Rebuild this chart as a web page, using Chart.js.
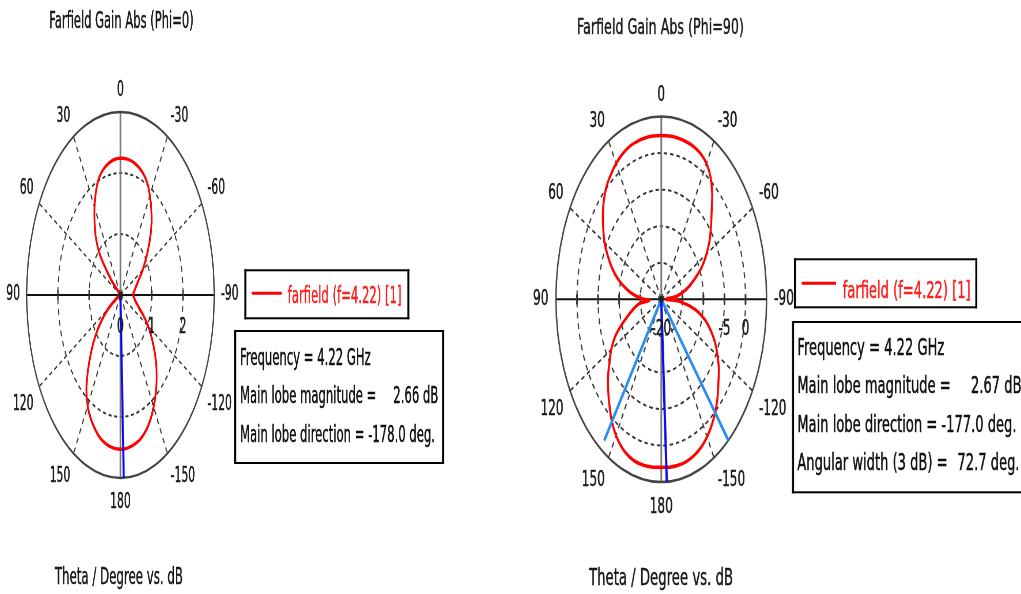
<!DOCTYPE html>
<html>
<head>
<meta charset="utf-8">
<script src="https://cdn.jsdelivr.net/npm/chart.js@4.4.1/dist/chart.umd.min.js"></script>
<style>
  html, body { margin: 0; padding: 0; background: #fff; overflow: hidden; width: 1021px; height: 594px; }
  .half { position: absolute; top: 0; height: 594px; transform-origin: 0 0; }
  canvas { display: block; }
</style>
</head>
<body>
<div class="half" style="left:0;width:1004px;transform:scaleX(0.5126)"><canvas id="phi0" width="1004" height="594"></canvas></div>
<div class="half" style="left:515px;width:879px;transform:scaleX(0.5764)"><canvas id="phi90" width="879" height="594"></canvas></div>
<script>
(() => {
  'use strict';

  const FREQ = '4.22';
  const angleTicks = [0, 30, 60, 90, 120, 150, 180, -150, -120, -90, -60, -30];
  const spokeAngles = [30, 60, 120, 150, -30, -60, -120, -150];

  // Phi = 0 cut (theta in deg, gain in dB)
  const phi0Theta = [-180, -175, -170, -165, -160, -155, -150, -145, -140, -135, -130, -125, -120, -115, -110, -105,
    -100, -95, -90, -85, -80, -75, -70, -65, -60, -55, -50, -45, -40, -35, -30, -25, -20, -15, -10, -5,
    0, 5, 10, 15, 20, 25, 30, 35, 40, 45, 50, 55, 60, 65, 70, 75, 80, 85, 90, 95, 100, 105, 110, 115,
    120, 125, 130, 135, 140, 145, 150, 155, 160, 165, 170, 175, 180];
  const phi0Gain = [2.53, 2.52, 2.49, 2.45, 2.37, 2.26, 2.12, 1.97, 1.80, 1.62, 1.42, 1.22, 1.03, 0.82, 0.64, 0.54,
    0.47, 0.43, 0.40, 0.42, 0.46, 0.51, 0.58, 0.68, 0.82, 0.97, 1.15, 1.35, 1.55, 1.72, 1.88, 2.03, 2.12, 2.18, 2.22, 2.24,
    2.24, 2.23, 2.19, 2.13, 2.03, 1.86, 1.66, 1.44, 1.22, 0.92, 0.40, -0.2, -1.0, -1.5, -2.0, -2.5, -3.0, -3.0, -3.0, -2.8, -2.2, -1.6, -0.6, 0.15,
    0.45, 0.75, 1.05, 1.33, 1.62, 1.90, 2.10, 2.24, 2.35, 2.44, 2.49, 2.52, 2.53];
  const phi0Rings = [1, 2];
  const phi0RingLabels = [0, 1, 2];
  const phi0Min = 0;
  const phi0Max = 3;
  const phi0MainDir = -178.0;
  const phi0MainMag = 2.66;

  // Phi = 90 cut
  const phi90Theta = [-180, -175, -170, -165, -160, -155, -150, -145, -140, -135, -130, -125, -120, -115, -110, -105,
    -100, -94, -91, -87, -84, -80, -75, -70, -65, -60, -55, -50, -45, -40, -35, -30, -25, -20, -15, -10, -5,
    0, 5, 10, 15, 20, 25, 30, 35, 40, 45, 50, 55, 60, 65, 70, 75, 80, 85, 90, 93, 96, 100, 105, 110, 115,
    120, 125, 130, 135, 140, 145, 150, 155, 160, 165, 170, 175, 180];
  const phi90Gain = [3.00, 3.06, 3.07, 3.00, 2.75, 2.35, 1.75, 0.95, 0.00, -1.10, -2.30, -3.30, -4.60, -5.90, -7.50, -9.30,
    -11.70, -15.50, -18.80, -18.80, -16.60, -15.00, -13.20, -11.30, -9.30, -7.60, -6.00, -4.60, -3.10, -1.20, 0.40, 1.45, 2.02, 2.27, 2.35, 2.40, 2.42,
    2.42, 2.42, 2.40, 2.33, 2.22, 1.90, 1.45, 0.85, 0.20, -0.75, -1.90, -3.20, -4.45, -6.00, -7.60, -9.40, -11.50, -13.60, -15.80, -17.20, -15.00, -13.60, -12.10, -10.10, -7.90,
    -6.30, -5.00, -3.50, -2.20, -0.90, 0.45, 1.50, 2.30, 2.80, 3.05, 3.08, 3.06, 3.00];
  const phi90Rings = [-15, -10, -5, 0];
  const phi90RingLabels = [-20, -5, 0];
  const phi90Min = -20;
  const phi90Max = 5;
  const phi90MainDir = -177.0;
  const phi90MainMag = 2.67;
  const phi90Width3dB = 72.7;
  const phi90BeamTheta = [145, -140.5];
  const phi90BeamGain = [3.6, 5];

  const FONT = '"DejaVu Sans", Tahoma, sans-serif';

  function toXY(theta, gain, gmin) {
    const r = Math.max(0, gain - gmin);
    const a = theta * Math.PI / 180;
    return { x: -r * Math.sin(a), y: r * Math.cos(a) };
  }

  function text(ctx, str, x, y, size, color, align, baseline) {
    ctx.font = `${size}px ${FONT}`;
    ctx.fillStyle = color || '#111';
    ctx.strokeStyle = color || '#111';
    ctx.lineWidth = 0.5;
    ctx.textAlign = align || 'left';
    ctx.textBaseline = baseline || 'alphabetic';
    ctx.fillText(str, x, y);
    ctx.strokeText(str, x, y);
  }

  // box with 2px-looking borders after the horizontal squeeze
  function box(ctx, x0, y0, x1, y1, sx) {
    const v = 2 / sx;
    ctx.fillStyle = '#fff';
    ctx.fillRect(x0, y0, x1 - x0, y1 - y0);
    ctx.fillStyle = '#000';
    ctx.fillRect(x0, y0, x1 - x0, 2);
    ctx.fillRect(x0, y1 - 2, x1 - x0, 2);
    ctx.fillRect(x0, y0, v, y1 - y0);
    ctx.fillRect(x1 - v, y0, v, y1 - y0);
  }

  function polarPlugin(p) {
    return {
      id: 'polarGrid',
      beforeDatasetsDraw(chart) {
        const { ctx, scales: { x, y } } = chart;
        const cx = x.getPixelForValue(0);
        const cy = y.getPixelForValue(0);
        const rad = v => x.getPixelForValue(v - p.min) - cx;
        const R = rad(p.max);
        ctx.save();
        ctx.strokeStyle = '#333';
        ctx.lineWidth = 2;
        ctx.setLineDash([6, 5]);
        p.rings.forEach(v => {
          ctx.beginPath();
          ctx.arc(cx, cy, rad(v), 0, 2 * Math.PI);
          ctx.stroke();
        });
        spokeAngles.forEach(a => {
          const t = a * Math.PI / 180;
          ctx.beginPath();
          ctx.moveTo(cx, cy);
          ctx.lineTo(cx - R * Math.sin(t), cy - R * Math.cos(t));
          ctx.stroke();
        });
        ctx.setLineDash([]);
        ctx.strokeStyle = '#7a7a7a';
        ctx.lineWidth = 3;
        ctx.beginPath();
        ctx.moveTo(cx, cy - R);
        ctx.lineTo(cx, cy + R);
        ctx.stroke();
        ctx.strokeStyle = '#111';
        ctx.lineWidth = 2;
        ctx.beginPath();
        ctx.moveTo(cx - R, cy);
        ctx.lineTo(cx + R, cy);
        ctx.stroke();
        ctx.lineWidth = 3;
        ctx.strokeStyle = '#333';
        p.rings.forEach(v => {
          [-1, 1].forEach(sg => {
            ctx.beginPath();
            ctx.moveTo(cx + sg * rad(v), cy - 5);
            ctx.lineTo(cx + sg * rad(v), cy + 5);
            ctx.stroke();
          });
        });
        ctx.strokeStyle = '#444';
        ctx.lineWidth = 2.5;
        ctx.beginPath();
        ctx.arc(cx, cy, R, 0, 2 * Math.PI);
        ctx.stroke();
        ctx.restore();
      },
      afterDatasetsDraw(chart) {
        const { ctx, scales: { x, y } } = chart;
        ctx.save();
        ctx.fillStyle = '#222';
        ctx.beginPath();
        ctx.arc(x.getPixelForValue(0), y.getPixelForValue(0), 3.5, 0, 2 * Math.PI);
        ctx.fill();
        ctx.restore();
      },
      afterDraw(chart) {
        const { ctx, scales: { x, y } } = chart;
        const cx = x.getPixelForValue(0);
        const cy = y.getPixelForValue(0);
        const rad = v => x.getPixelForValue(v - p.min) - cx;
        const R = rad(p.max);
        ctx.save();
        // angle labels: box corner pushed off the outer ring
        ctx.font = `21px ${FONT}`;
        angleTicks.forEach(a => {
          const t = a * Math.PI / 180;
          const s = String(a);
          const w = ctx.measureText(s).width;
          const sn = Math.sin(t), cs = Math.cos(t);
          const d = R + 13;
          const ox = Math.abs(sn) > 0.01 ? Math.sign(sn) * w / 2 : 0;
          const oy = Math.abs(cs) > 0.01 ? Math.sign(cs) * (cs > 0 ? 8.3 : 12) : 0;
          text(ctx, s, cx - d * sn - ox, cy - d * cs - oy, 21, '#1a1a1a', 'center', 'middle');
        });
        p.ringLabels.forEach(v => {
          text(ctx, String(v), cx + rad(v), p.ringLabelY, 21, '#1a1a1a', 'center', 'middle');
        });
        text(ctx, p.title, p.titleX, p.titleY, p.titleSize, '#1a1a1a');
        text(ctx, 'Theta / Degree vs. dB', p.footX, p.footY, 23, '#1a1a1a');

        const L = p.legend;
        box(ctx, L.x0, L.y0, L.x1, L.y1, p.sx);
        ctx.strokeStyle = '#ff0000';
        ctx.lineWidth = 3;
        ctx.beginPath();
        ctx.moveTo(L.lx0, L.ly);
        ctx.lineTo(L.lx1, L.ly);
        ctx.stroke();
        text(ctx, `farfield (f=${FREQ}) [1]`, L.tx, L.ty, 22.7, '#ff2020');

        const I = p.info;
        box(ctx, I.x0, I.y0, I.x1, I.y1, p.sx);
        I.lines.forEach((ln, i) => {
          text(ctx, ln[0], I.tx, I.base[i], 22.7, '#111');
          if (ln[1]) text(ctx, ln[1], ln[2], I.base[i], 22.7, '#111', 'right');
        });
        ctx.restore();
      }
    };
  }

  function makeChart(id, o) {
    const span = o.max - o.min;
    const curve = o.theta.map((t, i) => toXY(t, o.gain[i], o.min));
    const datasets = [
      {
        data: curve, borderColor: '#ff0000', borderWidth: 3.5, showLine: true,
        pointRadius: 0, tension: 0.3, fill: false, order: 2
      },
      {
        data: [{ x: 0, y: 0 }, toXY(o.mainDir, o.max, o.min)], borderColor: '#0a0aee', borderWidth: 4,
        showLine: true, pointRadius: 0, order: 0
      }
    ];
    if (o.beamTheta) {
      datasets.push({
        data: [toXY(o.beamTheta[0], o.beamGain[0], o.min), { x: 0, y: 0 }, toXY(o.beamTheta[1], o.beamGain[1], o.min)],
        borderColor: '#2a8cf0', borderWidth: 4, showLine: true, pointRadius: 0, order: 1
      });
    }
    return new Chart(document.getElementById(id), {
      type: 'scatter',
      data: { datasets },
      options: {
        responsive: false,
        animation: false,
        events: [],
        layout: { padding: o.padding },
        scales: {
          x: { type: 'linear', display: false, min: -span, max: span },
          y: { type: 'linear', display: false, min: -span, max: span }
        },
        plugins: { legend: { display: false }, tooltip: { enabled: false } }
      },
      plugins: [polarPlugin(o.plot)]
    });
  }

  makeChart('phi0', {
    theta: phi0Theta, gain: phi0Gain, min: phi0Min, max: phi0Max, mainDir: phi0MainDir,
    padding: { left: 52, right: 586, top: 112, bottom: 116 },
    plot: {
      sx: 0.5126, min: phi0Min, max: phi0Max, rings: phi0Rings, ringLabels: phi0RingLabels, ringLabelY: 328,
      title: 'Farfield Gain Abs (Phi=0)', titleSize: 22.5, titleX: 96, titleY: 28, footX: 107, footY: 584,
      legend: { x0: 476.6, y0: 269.3, x1: 798.5, y1: 319.3, lx0: 491, lx1: 549.6, ly: 293.3, tx: 561.3, ty: 303.3 },
      info: {
        x0: 457, y0: 330, x1: 866.2, y1: 464, tx: 468.2, base: [365, 403.3, 441.7],
        lines: [
          [`Frequency = ${FREQ} GHz`],
          ['Main lobe magnitude =', `${phi0MainMag.toFixed(2)} dB`, 855],
          [`Main lobe direction = ${phi0MainDir.toFixed(1)} deg.`]
        ]
      }
    }
  });

  makeChart('phi90', {
    theta: phi90Theta, gain: phi90Gain, min: phi90Min, max: phi90Max, mainDir: phi90MainDir,
    beamTheta: phi90BeamTheta, beamGain: phi90BeamGain,
    padding: { left: 71, right: 442.5, top: 116.6, bottom: 112 },
    plot: {
      sx: 0.5764, min: phi90Min, max: phi90Max, rings: phi90Rings, ringLabels: phi90RingLabels, ringLabelY: 330,
      title: 'Farfield Gain Abs (Phi=90)', titleSize: 22, titleX: 107.6, titleY: 34, footX: 128.4, footY: 585,
      legend: { x0: 484, y0: 258.3, x1: 802, y1: 308.3, lx0: 497.5, lx1: 557, ly: 283.3, tx: 568.5, ty: 298.3 },
      info: {
        x0: 480.6, y0: 321, x1: 892, y1: 493.3, tx: 489.8, base: [355, 393.3, 431.7, 470],
        lines: [
          [`Frequency = ${FREQ} GHz`],
          ['Main lobe magnitude =', `${phi90MainMag.toFixed(2)} dB`, 878.7],
          [`Main lobe direction = ${phi90MainDir.toFixed(1)} deg.`],
          ['Angular width (3 dB) =', `${phi90Width3dB.toFixed(1)} deg.`, 875.3]
        ]
      }
    }
  });
})();
</script>
</body>
</html>
